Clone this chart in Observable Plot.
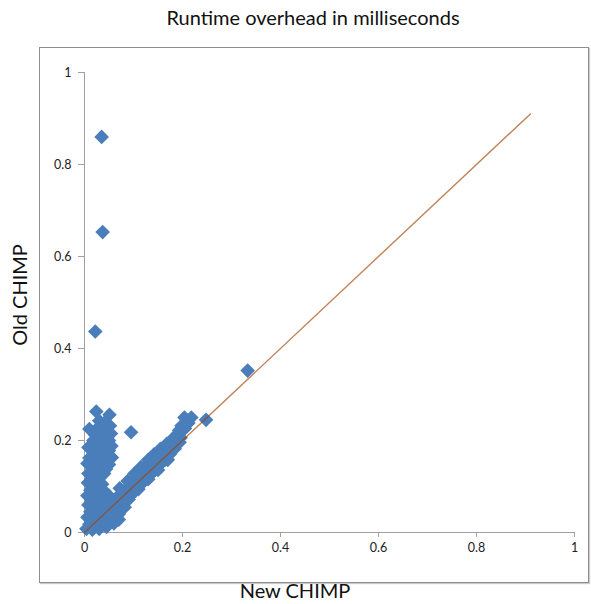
<!DOCTYPE html>
<html>
<head>
<meta charset="utf-8">
<script src="https://cdn.jsdelivr.net/npm/d3@7"></script>
<script src="https://cdn.jsdelivr.net/npm/@observablehq/plot@0.6"></script>
<style>
  html, body { margin: 0; padding: 0; background: #fff; }
  #wrap { position: relative; width: 591px; height: 604px; font-family: Lato, "Open Sans", sans-serif; }
  #frame { position: absolute; left: 39px; top: 47px; width: 548px; height: 534px; border: 1px solid #8e8e8e; box-shadow: 1px 1px 1px #ccc; }
  #title { position: absolute; left: 0; width: 626px; top: 5px; text-align: center; font-size: 20px; color: #111; }
  #xlabel { position: absolute; left: 0; width: 590px; top: 578px; text-align: center; font-size: 20px; color: #111; }
  #ylabel { position: absolute; left: 19px; top: 295px; transform: translate(-50%, -50%) rotate(-90deg); font-size: 20px; color: #111; white-space: nowrap; }
  #chart { position: absolute; left: 0; top: 0; }
</style>
</head>
<body>
<div id="wrap">
  <div id="frame"></div>
  <div id="chart"></div>
  <div id="title">Runtime overhead in milliseconds</div>
  <div id="xlabel">New CHIMP</div>
  <div id="ylabel">Old CHIMP</div>
</div>
<script>
// New CHIMP (x) and Old CHIMP (y) runtime overheads, in ms
const newChimp = [
  0.035, 0.037, 0.022, 0.333, 0.024, 0.051, 0.095, 0.248, 0.204, 0.218, 0.212, 0.205, 0.200,
  0.030, 0.040, 0.028, 0.043, 0.035, 0.022, 0.040, 0.018, 0.030, 0.045, 0.025, 0.012,
  0.050, 0.035, 0.018, 0.056, 0.042, 0.010, 0.028, 0.050, 0.015, 0.035, 0.022, 0.040, 0.008,
  0.030, 0.014, 0.036, 0.020, 0.007, 0.028, 0.012, 0.040, 0.022, 0.034, 0.006, 0.048,
  0.015, 0.028, 0.042, 0.055, 0.008, 0.020, 0.035, 0.050, 0.012, 0.026, 0.042, 0.060,
  0.006, 0.018, 0.032, 0.048, 0.010, 0.024, 0.040, 0.056, 0.004, 0.016, 0.030, 0.045, 0.060, 0.070,
  0.052, 0.054, 0.050, 0.055, 0.048, 0.046, 0.038, 0.044, 0.008, 0.006, 0.010,
  0.065, 0.065, 0.068, 0.075, 0.076, 0.078, 0.084, 0.086, 0.088, 0.094, 0.096, 0.098,
  0.104, 0.106, 0.108, 0.114, 0.116, 0.118, 0.124, 0.126, 0.128, 0.134, 0.136, 0.138,
  0.144, 0.146, 0.148, 0.154, 0.156, 0.158, 0.164, 0.166, 0.168, 0.174, 0.176, 0.178,
  0.184, 0.186, 0.188, 0.194, 0.196, 0.070, 0.082, 0.053, 0.045,
  0.072, 0.088, 0.102, 0.115, 0.130, 0.142, 0.155, 0.168, 0.180, 0.190, 0.193, 0.198,
  0.090, 0.110, 0.130, 0.150, 0.170, 0.062, 0.078
];
const oldChimp = [
  0.860, 0.653, 0.437, 0.352, 0.263, 0.256, 0.218, 0.245, 0.250, 0.250, 0.238, 0.226, 0.224,
  0.243, 0.238, 0.228, 0.226, 0.218, 0.212, 0.205, 0.200, 0.198, 0.190, 0.186, 0.183,
  0.178, 0.175, 0.170, 0.163, 0.160, 0.162, 0.155, 0.148, 0.145, 0.140, 0.132, 0.128, 0.128,
  0.118, 0.115, 0.105, 0.103, 0.108, 0.095, 0.092, 0.090, 0.082, 0.078, 0.080, 0.082,
  0.070, 0.066, 0.068, 0.072, 0.060, 0.055, 0.055, 0.058, 0.045, 0.042, 0.045, 0.050,
  0.033, 0.030, 0.030, 0.032, 0.018, 0.018, 0.020, 0.028, 0.008, 0.006, 0.008, 0.012, 0.020, 0.028,
  0.232, 0.215, 0.200, 0.188, 0.170, 0.155, 0.148, 0.138, 0.185, 0.150, 0.225,
  0.045, 0.062, 0.078, 0.055, 0.070, 0.088, 0.068, 0.082, 0.098, 0.080, 0.095, 0.110,
  0.092, 0.106, 0.122, 0.103, 0.118, 0.135, 0.115, 0.130, 0.146, 0.125, 0.140, 0.156,
  0.136, 0.150, 0.165, 0.148, 0.160, 0.175, 0.158, 0.170, 0.184, 0.170, 0.182, 0.192,
  0.182, 0.192, 0.200, 0.196, 0.206, 0.040, 0.055, 0.026, 0.015,
  0.096, 0.112, 0.128, 0.142, 0.158, 0.170, 0.182, 0.193, 0.204, 0.212, 0.222, 0.232,
  0.072, 0.094, 0.116, 0.136, 0.158, 0.040, 0.056
];
// linear trend line endpoints
const trendX = [0, 0.91];
const trendY = [0, 0.91];
const tickValues = [0, 0.2, 0.4, 0.6, 0.8, 1];
const tickLabels = ["0", "0.2", "0.4", "0.6", "0.8", "1"];

const points = newChimp.map((x, i) => ({x, y: oldChimp[i]}));
const trend = trendX.map((x, i) => ({x, y: trendY[i]}));
const fmt = d => tickLabels[tickValues.indexOf(d)];

const chart = Plot.plot({
  width: 591,
  height: 604,
  marginLeft: 84,
  marginRight: 17,
  marginTop: 72,
  marginBottom: 72,
  style: {background: "transparent", fontFamily: "Lato, 'Open Sans', sans-serif"},
  x: {domain: [0, 1]},
  y: {domain: [0, 1]},
  marks: [
    Plot.ruleY([0], {stroke: "#a0a0a0", strokeWidth: 1}),
    Plot.ruleX([0], {stroke: "#a0a0a0", strokeWidth: 1}),
    Plot.axisX({ticks: tickValues, tickFormat: fmt, tickSize: 5, tickPadding: 6, stroke: "#a0a0a0", fill: "#222", fontSize: 12.5, label: null}),
    Plot.axisY({ticks: tickValues, tickFormat: fmt, tickSize: 6, tickPadding: 7, stroke: "#a0a0a0", fill: "#222", fontSize: 12.5, label: null}),
    Plot.dot(points, {x: "x", y: "y", symbol: "diamond2", r: 6.6, fill: "#4A7EBB", stroke: "none"}),
    Plot.line(trend, {x: "x", y: "y", stroke: "#A04000", strokeOpacity: 0.65, strokeWidth: 1.4})
  ]
});
document.getElementById("chart").appendChild(chart);
</script>
</body>
</html>
